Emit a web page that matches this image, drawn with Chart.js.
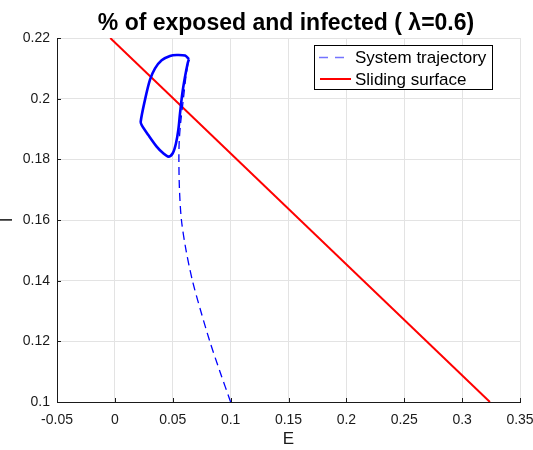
<!DOCTYPE html>
<html><head><meta charset="utf-8">
<script src="https://cdn.jsdelivr.net/npm/chart.js@4.4.0/dist/chart.umd.min.js"></script>
<style>html,body{margin:0;padding:0;background:#fff}</style>
</head><body>
<canvas id="c" width="533" height="450" style="width:533px;height:450px;display:block"></canvas>
<script>
// ---- data ----
const chartTitle = '% of exposed and infected ( \u03BB=0.6)';
const xTitle = 'E';
const yTitle = 'I';
const xTicks = [-0.05, 0, 0.05, 0.1, 0.15, 0.2, 0.25, 0.3, 0.35];
const xTickLabels = ['-0.05', '0', '0.05', '0.1', '0.15', '0.2', '0.25', '0.3', '0.35'];
const yTicks = [0.1, 0.12, 0.14, 0.16, 0.18, 0.2, 0.22];
const yTickLabels = ['0.1', '0.12', '0.14', '0.16', '0.18', '0.2', '0.22'];

// transient part of the system trajectory (dashed)
const approachE = [0.1, 0.0908, 0.082, 0.0742, 0.067, 0.0615, 0.0575, 0.0558, 0.0553, 0.0556, 0.0568, 0.0592, 0.0613, 0.0635, 0.064];
const approachI = [0.1, 0.11, 0.12, 0.13, 0.14, 0.15, 0.16, 0.17, 0.18, 0.186, 0.192, 0.2, 0.207, 0.2125, 0.213];

// limit cycle reached by the trajectory
const cycleE = [0.064, 0.0606, 0.0534, 0.0476, 0.0404, 0.0347, 0.0303, 0.026, 0.0223, 0.0232, 0.0289, 0.0361, 0.0418, 0.0462, 0.05, 0.0528, 0.0548, 0.0563, 0.0583, 0.0606, 0.0629, 0.064];
const cycleI = [0.213, 0.2142, 0.2144, 0.2141, 0.2127, 0.21, 0.2062, 0.1996, 0.1924, 0.1913, 0.188, 0.1842, 0.182, 0.1809, 0.182, 0.1853, 0.1897, 0.1952, 0.2018, 0.2072, 0.2117, 0.213];

// sliding surface
const surfaceE = [-0.004, 0.324];
const surfaceI = [0.22, 0.1];

const seriesLabels = ['System trajectory', 'Sliding surface'];

// ---- helpers ----
const pts = (xs, ys) => xs.map((x, i) => ({x: x, y: ys[i]}));
const FONT = '"Liberation Sans", Arial, Helvetica, sans-serif';
const TXT = '#1a1a1a';

const innerTicks = {
  id: 'innerTicks',
  beforeDatasetsDraw(chart) {
    const {ctx, chartArea: a, scales} = chart;
    ctx.save();
    ctx.strokeStyle = TXT;
    ctx.lineWidth = 1;
    ctx.beginPath();
    xTicks.forEach(v => {
      const px = Math.round(scales.x.getPixelForValue(v)) + 0.5;
      ctx.moveTo(px, a.bottom);
      ctx.lineTo(px, a.bottom - 4);
    });
    yTicks.forEach(v => {
      const py = Math.round(scales.y.getPixelForValue(v)) + 0.5;
      ctx.moveTo(a.left, py);
      ctx.lineTo(a.left + 4, py);
    });
    ctx.stroke();
    ctx.restore();
  }
};

const titleAndLegend = {
  id: 'titleAndLegend',
  afterDraw(chart) {
    const ctx = chart.ctx;
    ctx.save();
    // title
    ctx.fillStyle = '#000';
    ctx.font = 'bold 23px ' + FONT;
    ctx.textAlign = 'center';
    ctx.textBaseline = 'alphabetic';
    ctx.fillText(chartTitle, 286, 30);
    // legend box
    const bx = 314.5, by = 45.5, bw = 178, bh = 44;
    ctx.fillStyle = '#fff';
    ctx.fillRect(bx, by, bw, bh);
    ctx.strokeStyle = '#000';
    ctx.lineWidth = 1;
    ctx.strokeRect(bx, by, bw, bh);
    const ds = chart.data.datasets;
    // trajectory sample
    ctx.beginPath();
    ctx.setLineDash([9, 7]);
    ctx.strokeStyle = 'rgba(0,0,255,0.55)';
    ctx.lineWidth = 1.5;
    ctx.moveTo(319, 57.5);
    ctx.lineTo(351, 57.5);
    ctx.stroke();
    // surface sample
    ctx.beginPath();
    ctx.setLineDash([]);
    ctx.strokeStyle = '#ff0000';
    ctx.lineWidth = 2;
    ctx.moveTo(320, 79);
    ctx.lineTo(351, 79);
    ctx.stroke();
    ctx.fillStyle = '#000';
    ctx.font = '17px ' + FONT;
    ctx.textAlign = 'left';
    ctx.textBaseline = 'middle';
    ctx.fillText(ds[0].label, 355, 58);
    ctx.fillText(ds[2].label, 355, 80);
    ctx.restore();
  }
};

new Chart(document.getElementById('c'), {
  type: 'scatter',
  data: {
    datasets: [
      {label: seriesLabels[0], data: pts(approachE, approachI), showLine: true, borderColor: '#0000ff',
       borderWidth: 1.3, borderDash: [8, 5], pointRadius: 0, fill: false, tension: 0.3},
      {label: seriesLabels[0] + ' (cycle)', data: pts(cycleE, cycleI), showLine: true, borderColor: '#0000ff',
       borderWidth: 2.6, pointRadius: 0, fill: false, tension: 0.3},
      {label: seriesLabels[1], data: pts(surfaceE, surfaceI), showLine: true, borderColor: '#ff0000',
       borderWidth: 2, pointRadius: 0, fill: false}
    ]
  },
  options: {
    responsive: false,
    animation: false,
    devicePixelRatio: 1,
    layout: {padding: {top: 38, right: 13, left: 0, bottom: 0}},
    plugins: {legend: {display: false}, title: {display: false}, tooltip: {enabled: false}},
    scales: {
      x: {
        type: 'linear', min: -0.05, max: 0.35,
        afterBuildTicks: s => { s.ticks = xTicks.map(v => ({value: v})); },
        afterFit: s => { s.height = 48; s.paddingLeft = 0; s.paddingRight = 0; },
        ticks: {callback: (v, i) => xTickLabels[i], color: TXT, font: {family: FONT, size: 14}, padding: 10, maxRotation: 0, autoSkip: false},
        grid: {color: '#e3e3e3', drawTicks: false, lineWidth: 1},
        border: {display: true, color: TXT, width: 1},
        title: {display: true, text: xTitle, color: TXT, font: {family: FONT, size: 17, lineHeight: 1.2}, padding: 0}
      },
      y: {
        type: 'linear', min: 0.1, max: 0.22,
        afterBuildTicks: s => { s.ticks = yTicks.map(v => ({value: v})); },
        afterFit: s => { s.width = 57; s.paddingTop = 0; s.paddingBottom = 0; },
        ticks: {callback: (v, i) => yTickLabels[i], color: TXT, font: {family: FONT, size: 14}, padding: 7, autoSkip: false},
        grid: {color: '#e3e3e3', drawTicks: false, lineWidth: 1},
        border: {display: true, color: TXT, width: 1},
        title: {display: true, text: yTitle, color: TXT, font: {family: FONT, size: 17, lineHeight: 0.82}, padding: 0}
      }
    }
  },
  plugins: [innerTicks, titleAndLegend]
});
</script>
</body></html>
